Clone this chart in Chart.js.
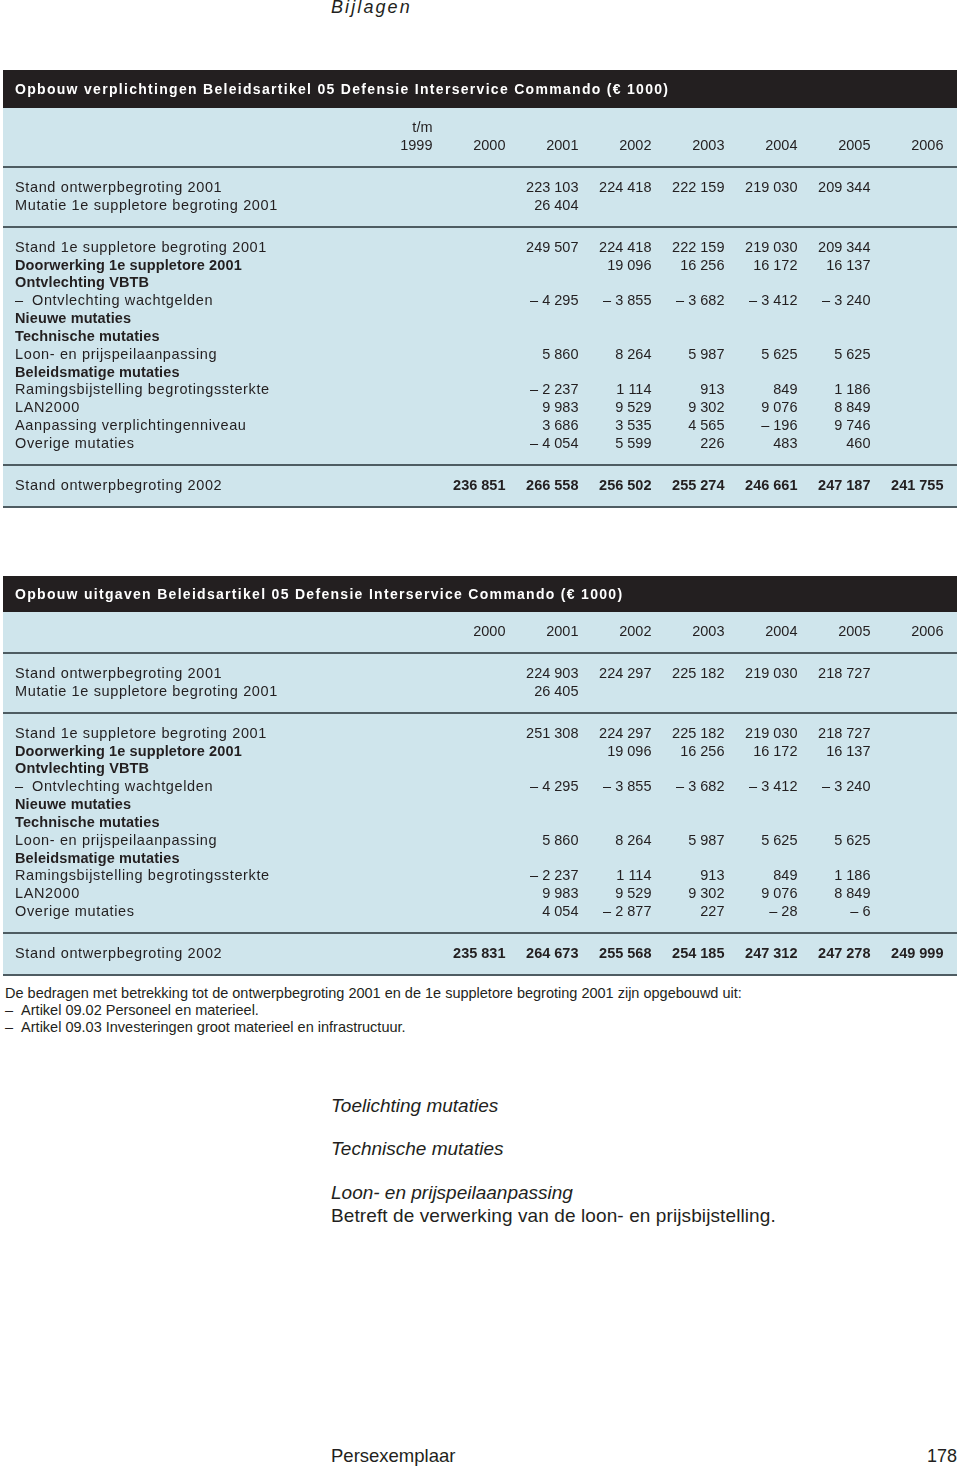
<!DOCTYPE html>
<html><head><meta charset="utf-8">
<script src="https://cdn.jsdelivr.net/npm/chart.js@4.4.1/dist/chart.umd.min.js"></script>
<style>
html,body{margin:0;padding:0;background:#fff;}
body{width:960px;height:1469px;position:relative;overflow:hidden;font-family:"Liberation Sans",Arial,sans-serif;color:#231f20;}
.t{position:absolute;white-space:nowrap;}
canvas{position:absolute;left:0;}
</style></head><body>
<div class="t" style="left:331px;top:-3px;font-size:18px;line-height:20px;font-style:italic;letter-spacing:2.1px">Bijlagen</div>

<canvas id="c1" width="960" height="440" style="top:70px"></canvas>
<canvas id="c2" width="960" height="404" style="top:576px"></canvas>

<div class="t" style="left:5px;top:985px;font-size:14.5px;line-height:17px">De bedragen met betrekking tot de ontwerpbegroting 2001 en de 1e suppletore begroting 2001 zijn opgebouwd uit:<br>–&nbsp;&nbsp;Artikel 09.02 Personeel en materieel.<br>–&nbsp;&nbsp;Artikel 09.03 Investeringen groot materieel en infrastructuur.</div>

<div class="t" style="left:331px;top:1095px;font-size:19px;line-height:22px;font-style:italic">Toelichting mutaties</div>
<div class="t" style="left:331px;top:1138px;font-size:19px;line-height:22px;font-style:italic">Technische mutaties</div>
<div class="t" style="left:331px;top:1182px;font-size:19px;line-height:22px;font-style:italic">Loon- en prijspeilaanpassing</div>
<div class="t" style="left:331px;top:1205px;font-size:19px;line-height:22px;letter-spacing:0.1px">Betreft de verwerking van de loon- en prijsbijstelling.</div>

<div class="t" style="left:331px;top:1445px;font-size:18.5px;line-height:22px">Persexemplaar</div>
<div class="t" style="right:3px;top:1445px;font-size:18px;line-height:22px">178</div>

<script>
// ---------------- DATA ----------------
const TITLE_1 = 'Opbouw verplichtingen Beleidsartikel 05 Defensie Interservice Commando (€ 1000)';
const HEADER_YEARS_1 = [1999, 2000, 2001, 2002, 2003, 2004, 2005, 2006];
const HEADER_PREFIX_1 = 't/m';           // shown above the first year column
const ROWS_1 = [
  'Stand ontwerpbegroting 2001',
  'Mutatie 1e suppletore begroting 2001',
  'Stand 1e suppletore begroting 2001',
  'Doorwerking 1e suppletore 2001',
  'Ontvlechting VBTB',
  '– Ontvlechting wachtgelden',
  'Nieuwe mutaties',
  'Technische mutaties',
  'Loon- en prijspeilaanpassing',
  'Beleidsmatige mutaties',
  'Ramingsbijstelling begrotingssterkte',
  'LAN2000',
  'Aanpassing verplichtingenniveau',
  'Overige mutaties',
  'Stand ontwerpbegroting 2002'
];
const BOLD_ROWS_1 = [3, 4, 6, 7, 9];
const GROUPS_1 = [2, 12, 1];
const BODY_YEARS_1 = [2001, 2002, 2003, 2004, 2005];
const T1_2001 = [223103, 26404, 249507, null, null, -4295, null, null, 5860, null, -2237, 9983, 3686, -4054];
const T1_2002 = [224418, null, 224418, 19096, null, -3855, null, null, 8264, null, 1114, 9529, 3535, 5599];
const T1_2003 = [222159, null, 222159, 16256, null, -3682, null, null, 5987, null, 913, 9302, 4565, 226];
const T1_2004 = [219030, null, 219030, 16172, null, -3412, null, null, 5625, null, 849, 9076, -196, 483];
const T1_2005 = [209344, null, 209344, 16137, null, -3240, null, null, 5625, null, 1186, 8849, 9746, 460];
const TOTAL_YEARS_1 = [2000, 2001, 2002, 2003, 2004, 2005, 2006];
const TOTAL_1 = [236851, 266558, 256502, 255274, 246661, 247187, 241755];

const TITLE_2 = 'Opbouw uitgaven Beleidsartikel 05 Defensie Interservice Commando (€ 1000)';
const HEADER_YEARS_2 = [2000, 2001, 2002, 2003, 2004, 2005, 2006];
const ROWS_2 = [
  'Stand ontwerpbegroting 2001',
  'Mutatie 1e suppletore begroting 2001',
  'Stand 1e suppletore begroting 2001',
  'Doorwerking 1e suppletore 2001',
  'Ontvlechting VBTB',
  '– Ontvlechting wachtgelden',
  'Nieuwe mutaties',
  'Technische mutaties',
  'Loon- en prijspeilaanpassing',
  'Beleidsmatige mutaties',
  'Ramingsbijstelling begrotingssterkte',
  'LAN2000',
  'Overige mutaties',
  'Stand ontwerpbegroting 2002'
];
const BOLD_ROWS_2 = [3, 4, 6, 7, 9];
const GROUPS_2 = [2, 11, 1];
const BODY_YEARS_2 = [2001, 2002, 2003, 2004, 2005];
const T2_2001 = [224903, 26405, 251308, null, null, -4295, null, null, 5860, null, -2237, 9983, 4054];
const T2_2002 = [224297, null, 224297, 19096, null, -3855, null, null, 8264, null, 1114, 9529, -2877];
const T2_2003 = [225182, null, 225182, 16256, null, -3682, null, null, 5987, null, 913, 9302, 227];
const T2_2004 = [219030, null, 219030, 16172, null, -3412, null, null, 5625, null, 849, 9076, -28];
const T2_2005 = [218727, null, 218727, 16137, null, -3240, null, null, 5625, null, 1186, 8849, -6];
const TOTAL_YEARS_2 = [2000, 2001, 2002, 2003, 2004, 2005, 2006];
const TOTAL_2 = [235831, 264673, 255568, 254185, 247312, 247278, 249999];

// ---------------- LAYOUT / STYLE ----------------
const FONT = '"Liberation Sans", Arial, sans-serif';
const SIZE = '14.5px ';
const TEXT = '#231f20';
const BLUE = '#cfe5ec';
const DARK = '#231f20';
const RULE = '#4e5c62';
const PITCH = 17.82;          // px per row
const GAP_PX = 42;            // px between last row of a group and first row of next
const X_FIRST = 432.5;        // right edge of 1999 column (px)
const X_STEP = 73.0;          // px per year

function fmt(v){
  const s = String(Math.abs(v)).replace(/\B(?=(\d{3})+(?!\d))/g, ' ');
  return v < 0 ? '– ' + s : s;
}

function rowUnits(groups){
  const gap = GAP_PX / PITCH;
  const u = [], seps = [];
  let cur = 0;
  groups.forEach(n => {
    seps.push(cur + gap / 2);
    cur += gap;
    for (let i = 0; i < n; i++){ u.push(cur); if (i < n - 1) cur += 1; }
  });
  seps.push(cur + gap / 2);
  return {u, seps};
}

function makeTable(canvasId, cfg){
  const canvas = document.getElementById(canvasId);
  const W = canvas.width, H = canvas.height;
  const {u, seps} = rowUnits(cfg.groups);
  const nBody = cfg.rows.length - 1;
  const datasets = cfg.bodyYears.map((yr, ci) => ({
    label: String(yr),
    bold: false,
    data: cfg.bodyCols[ci].map((v, r) => v === null ? null : ({x: yr, y: u[r], v})).filter(Boolean)
  }));
  datasets.push({
    label: 'totaal',
    bold: true,
    data: cfg.totalYears.map((yr, i) => ({x: yr, y: u[nBody], v: cfg.totals[i]}))
  });

  const yMin = -cfg.headerPx / PITCH;
  const yMax = yMin + H / PITCH;
  const firstYear = 1999;
  const xMin = firstYear - X_FIRST / X_STEP;
  const xMax = xMin + W / X_STEP;

  const plugin = {
    id: 'tableDraw_' + canvasId,
    beforeDraw(chart){
      const ctx = chart.ctx, ys = chart.scales.y;
      const bottom = ys.getPixelForValue(seps[seps.length - 1]);
      ctx.save();
      ctx.fillStyle = BLUE;
      ctx.fillRect(3, cfg.titleH, 954, bottom - cfg.titleH + 1);
      ctx.fillStyle = DARK;
      ctx.fillRect(3, 0, 954, cfg.titleH);
      ctx.fillStyle = RULE;
      seps.forEach(s => {
        const p = Math.round(ys.getPixelForValue(s));
        ctx.fillRect(3, p - 1, 954, 2);
      });
      ctx.restore();
    },
    afterDraw(chart){
      const ctx = chart.ctx, xs = chart.scales.x, ys = chart.scales.y;
      ctx.save();
      ctx.textBaseline = 'middle';
      // title
      ctx.fillStyle = '#ffffff';
      ctx.font = 'bold 14px ' + FONT;
      ctx.letterSpacing = '1.3px';
      ctx.textAlign = 'left';
      ctx.fillText(cfg.title, 15, cfg.titleH / 2 + 1);
      ctx.fillStyle = TEXT;
      ctx.letterSpacing = '0px';
      // header
      ctx.font = SIZE + FONT;
      ctx.textAlign = 'right';
      cfg.headerYears.forEach((yr, i) => {
        const x = xs.getPixelForValue(yr);
        ctx.fillText(String(yr), x, ys.getPixelForValue(0));
        if (i === 0 && cfg.headerPrefix) ctx.fillText(cfg.headerPrefix, x, ys.getPixelForValue(-1));
      });
      // row labels
      ctx.textAlign = 'left';
      cfg.rows.forEach((lab, r) => {
        const bold = cfg.boldRows.includes(r);
        ctx.font = (bold ? 'bold ' : '') + SIZE + FONT;
        ctx.letterSpacing = bold ? '0.12px' : '0.63px';
        const y = ys.getPixelForValue(u[r]);
        if (lab.startsWith('– ')){
          ctx.fillText('–', 15, y);
          ctx.fillText(lab.slice(2), 32, y);
        } else {
          ctx.fillText(lab, 15, y);
        }
      });
      // values
      ctx.textAlign = 'right';
      ctx.letterSpacing = '0px';
      chart.data.datasets.forEach((ds, di) => {
        const meta = chart.getDatasetMeta(di);
        ctx.font = (ds.bold ? 'bold ' : '') + SIZE + FONT;
        meta.data.forEach((el, i) => {
          ctx.fillText(fmt(ds.data[i].v), el.x, el.y);
        });
      });
      ctx.restore();
    }
  };

  return new Chart(canvas, {
    type: 'scatter',
    data: {datasets},
    options: {
      responsive: false,
      animation: false,
      events: [],
      devicePixelRatio: 1,
      layout: {padding: 0},
      elements: {point: {radius: 0, hoverRadius: 0}},
      plugins: {legend: {display: false}, tooltip: {enabled: false}, title: {display: false}},
      scales: {
        x: {type: 'linear', display: false, min: xMin, max: xMax},
        y: {type: 'linear', display: false, reverse: true, min: yMin, max: yMax}
      }
    },
    plugins: [plugin]
  });
}

makeTable('c1', {
  title: TITLE_1, titleH: 38, headerPx: 76,
  headerYears: HEADER_YEARS_1, headerPrefix: HEADER_PREFIX_1,
  rows: ROWS_1, boldRows: BOLD_ROWS_1, groups: GROUPS_1,
  bodyYears: BODY_YEARS_1, bodyCols: [T1_2001, T1_2002, T1_2003, T1_2004, T1_2005],
  totalYears: TOTAL_YEARS_1, totals: TOTAL_1
});
makeTable('c2', {
  title: TITLE_2, titleH: 36, headerPx: 56,
  headerYears: HEADER_YEARS_2, headerPrefix: null,
  rows: ROWS_2, boldRows: BOLD_ROWS_2, groups: GROUPS_2,
  bodyYears: BODY_YEARS_2, bodyCols: [T2_2001, T2_2002, T2_2003, T2_2004, T2_2005],
  totalYears: TOTAL_YEARS_2, totals: TOTAL_2
});
</script>
</body></html>
